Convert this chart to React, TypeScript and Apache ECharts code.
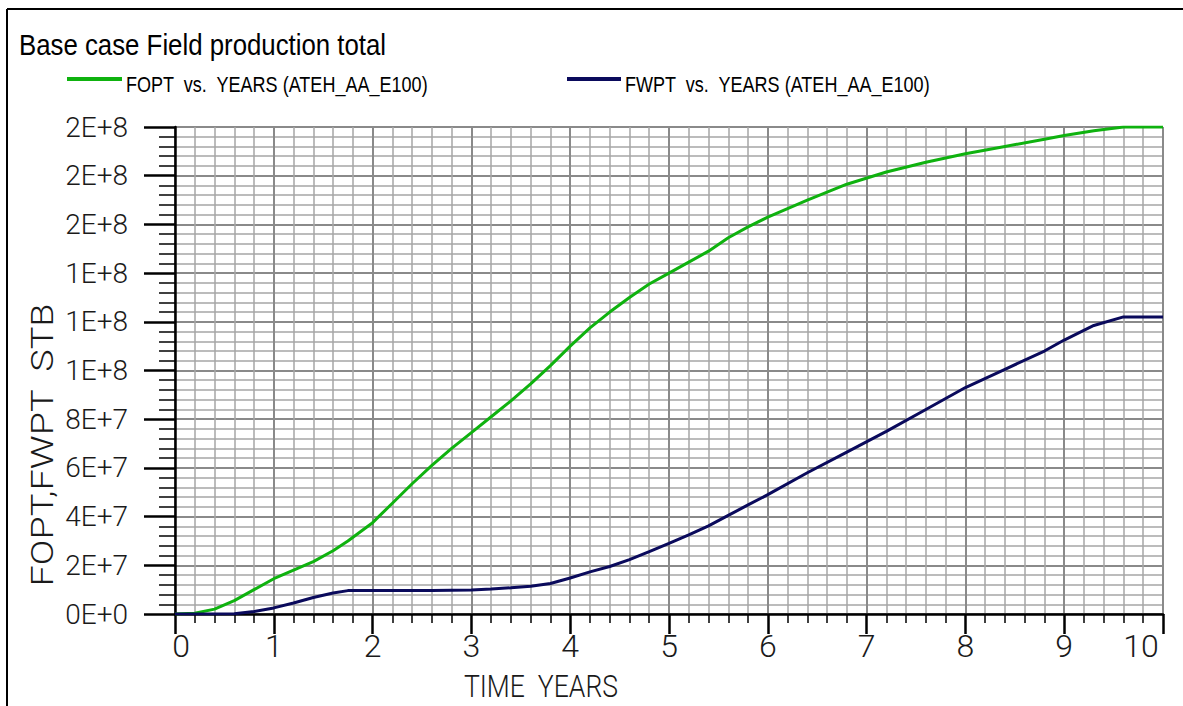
import React, { useEffect, useRef } from "react";
import * as echarts from "echarts";

// ---- data ----
const years = [0, 0.2, 0.4, 0.6, 0.8, 1.0, 1.2, 1.4, 1.6, 1.75, 2.0, 2.2, 2.4, 2.6, 2.8, 3.0, 3.2, 3.4, 3.6, 3.8, 4.0, 4.2, 4.4, 4.6, 4.8, 5.0, 5.2, 5.4, 5.6, 5.8, 6.0, 6.4, 6.8, 7.2, 7.6, 8.0, 8.4, 8.8, 9.0, 9.3, 9.6, 10.0];
// FOPT, million STB
const foptM = [0, 0.3, 2, 5.5, 10, 14.5, 18, 21.5, 26, 30, 37.5, 45.5, 53.5, 61, 68, 74.5, 81, 87.5, 94.5, 102, 110, 117.5, 124, 130, 135.5, 140, 144.5, 149, 154.5, 159, 163, 170, 176.5, 181.5, 185.5, 189, 192, 195, 196.5, 198.5, 200, 200];
// FWPT, million STB
const fwptM = [0, 0, 0, 0.1, 1.0, 2.5, 4.5, 6.8, 8.6, 9.6, 9.7, 9.7, 9.7, 9.7, 9.8, 9.9, 10.3, 10.8, 11.4, 12.5, 14.8, 17.3, 19.5, 22.3, 25.6, 29, 32.5, 36.2, 40.5, 44.8, 49, 58, 66.5, 75, 84, 93, 100.5, 108, 112.5, 118.5, 122, 122];

const xTickLabels = ["0", "1", "2", "3", "4", "5", "6", "7", "8", "9", "10"];
const yTickLabels = ["0E+0", "2E+7", "4E+7", "6E+7", "8E+7", "1E+8", "1E+8", "1E+8", "2E+8", "2E+8", "2E+8"];

const titleText = "Base case Field production total";
const legendNames = ["FOPT  vs.  YEARS (ATEH_AA_E100)", "FWPT  vs.  YEARS (ATEH_AA_E100)"];
const xAxisTitle = "TIME  YEARS";
const yAxisTitle = "FOPT,FWPT  STB";

const GREEN = "#0fb20f";
const NAVY = "#0a0a5c";
const AXIS_FONT = "Roboto";

export default function App() {
  const ref = useRef<HTMLDivElement>(null);

  useEffect(() => {
    if (!ref.current) return;
    const chart = echarts.init(ref.current, undefined, { renderer: "svg" });

    const labelFont = {
      fontFamily: AXIS_FONT,
      fontWeight: 300 as any,
      color: "#1a1a1a",
    };

    const option: any = {
      animation: false,
      backgroundColor: "#ffffff",
      grid: { left: 175, right: 20, top: 127, bottom: 92, containLabel: false },
      xAxis: {
        type: "value",
        min: 0,
        max: 10,
        interval: 1,
        axisLine: { show: true, onZero: false, lineStyle: { color: "#000", width: 2.5 } },
        axisTick: { show: true, length: 20, lineStyle: { color: "#000", width: 2.5 } },
        minorTick: { show: true, splitNumber: 5, length: 9, lineStyle: { color: "#000", width: 1.5 } },
        splitLine: { show: true, lineStyle: { color: "#8a8a8a", width: 2 } },
        minorSplitLine: { show: true, lineStyle: { color: "#a6a6a6", width: 1.5 } },
        axisLabel: {
          ...labelFont,
          fontSize: 32,
          margin: 16,
          formatter: (v: number) => {
            const i = Math.round(v);
            const s = xTickLabels[i];
            if (i === 0) return "{l|" + s + "}";
            if (i === xTickLabels.length - 1) return "{r|" + s + "}";
            return s;
          },
          rich: {
            l: { ...labelFont, fontSize: 32, padding: [0, 0, 0, 12] },
            r: { ...labelFont, fontSize: 32, padding: [0, 44, 0, 0] },
          },
        },
      },
      yAxis: {
        type: "value",
        min: 0,
        max: 2e8,
        interval: 2e7,
        axisLine: { show: true, onZero: false, lineStyle: { color: "#000", width: 2.5 } },
        axisTick: { show: true, length: 31, lineStyle: { color: "#000", width: 2.5 } },
        minorTick: { show: true, splitNumber: 5, length: 16, lineStyle: { color: "#000", width: 1.5 } },
        splitLine: { show: true, lineStyle: { color: "#8a8a8a", width: 2 } },
        minorSplitLine: { show: true, lineStyle: { color: "#a6a6a6", width: 1.5 } },
        axisLabel: {
          ...labelFont,
          fontSize: 28,
          margin: 47,
          formatter: (v: number) => yTickLabels[Math.round(v / 2e7)],
        },
      },
      series: [
        {
          name: legendNames[0],
          type: "line",
          showSymbol: false,
          symbol: "none",
          data: years.map((t, i) => [t, foptM[i] * 1e6]),
          lineStyle: { color: GREEN, width: 3 },
          itemStyle: { color: GREEN },
          z: 3,
        },
        {
          name: legendNames[1],
          type: "line",
          showSymbol: false,
          symbol: "none",
          data: years.map((t, i) => [t, fwptM[i] * 1e6]),
          lineStyle: { color: NAVY, width: 3 },
          itemStyle: { color: NAVY },
          z: 4,
        },
      ],
      graphic: [
        { type: "line", shape: { x1: 7, y1: 9, x2: 1183, y2: 9 }, style: { stroke: "#000", lineWidth: 2 } },
        { type: "line", shape: { x1: 7, y1: 9, x2: 7, y2: 706 }, style: { stroke: "#000", lineWidth: 2 } },
        {
          type: "text",
          x: 19,
          y: 45,
          scaleX: 0.89,
          style: {
            text: titleText,
            fontSize: 29,
            fontFamily: "Liberation Sans",
            fill: "#000",
            textAlign: "left",
            textVerticalAlign: "middle",
          },
        },
        { type: "line", shape: { x1: 67, y1: 79, x2: 122, y2: 79 }, style: { stroke: GREEN, lineWidth: 4 } },
        {
          type: "text",
          x: 126,
          y: 84,
          scaleX: 0.82,
          style: {
            text: legendNames[0],
            fontSize: 22,
            fontFamily: "Liberation Sans",
            fill: "#000",
            textAlign: "left",
            textVerticalAlign: "middle",
          },
        },
        { type: "line", shape: { x1: 567, y1: 79, x2: 621, y2: 79 }, style: { stroke: NAVY, lineWidth: 4 } },
        {
          type: "text",
          x: 625,
          y: 84,
          scaleX: 0.82,
          style: {
            text: legendNames[1],
            fontSize: 22,
            fontFamily: "Liberation Sans",
            fill: "#000",
            textAlign: "left",
            textVerticalAlign: "middle",
          },
        },
        {
          type: "text",
          x: 541,
          y: 686,
          scaleX: 0.83,
          style: {
            text: xAxisTitle,
            fontSize: 32,
            fontFamily: AXIS_FONT,
            fontWeight: 300,
            fill: "#1a1a1a",
            textAlign: "center",
            textVerticalAlign: "middle",
          },
        },
        {
          type: "text",
          x: 42,
          y: 445,
          rotation: Math.PI / 2,
          scaleX: 1.22,
          style: {
            text: yAxisTitle,
            fontSize: 31,
            fontFamily: AXIS_FONT,
            fontWeight: 300,
            fill: "#1a1a1a",
            textAlign: "center",
            textVerticalAlign: "middle",
          },
        },
      ],
    };

    chart.setOption(option);
    return () => chart.dispose();
  }, []);

  return (
    <div
      ref={ref}
      style={{ position: "fixed", left: 0, top: 0, width: 1183, height: 706, background: "#fff" }}
    />
  );
}
